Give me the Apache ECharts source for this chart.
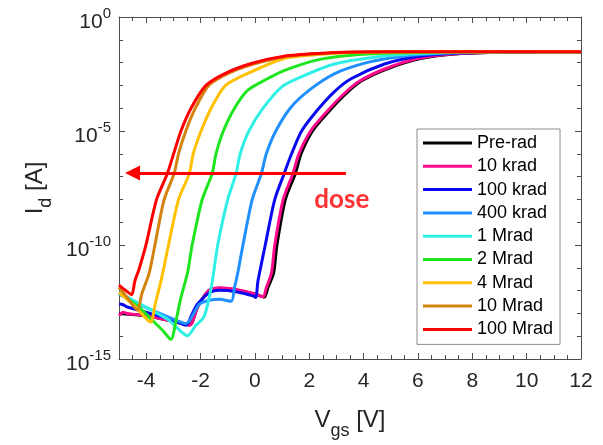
<!DOCTYPE html>
<html>
<head>
<meta charset="utf-8">
<script src="https://cdn.jsdelivr.net/npm/echarts@6/dist/echarts.min.js"></script>
<style>
  html, body { margin: 0; padding: 0; background: #fff; }
  #chart { width: 603px; height: 445px; }
</style>
</head>
<body>
<div id="chart"></div>
<script>
// Id-Vgs transfer curves, values are [Vgs (V), log10(Id / A)]
const preRad = [[-5,-13.0],[-4,-13.1],[-3,-13.35],[-2.4,-13.5],[-2.1,-12.7],[-1.7,-12.0],[-1.3,-11.9],[-0.69,-11.97],[0.0,-12.15],[0.35,-12.28],[0.48,-11.87],[0.69,-11.23],[0.81,-10.01],[1.12,-8.01],[1.49,-6.86],[1.7,-6.0],[2.12,-5.0],[2.68,-4.2],[3.3,-3.42],[3.9,-2.82],[4.85,-2.28],[6.1,-1.82],[7.6,-1.6],[9.6,-1.53],[12,-1.52]];
const krad10 = [[-5,-13.09],[-4.85,-12.95],[-4.7,-13.0],[-4,-13.1],[-3,-13.35],[-2.4,-13.52],[-2.1,-12.7],[-1.7,-12.0],[-1.3,-11.87],[-0.69,-11.95],[0.0,-12.15],[0.3,-12.28],[0.42,-11.87],[0.61,-11.23],[0.73,-10.01],[1.04,-8.01],[1.40,-6.86],[1.62,-6.0],[2.05,-5.0],[2.61,-4.2],[3.23,-3.42],[3.84,-2.82],[4.77,-2.28],[6.0,-1.82],[7.5,-1.6],[9.5,-1.53],[12,-1.52]];
const krad100 = [[-5,-12.59],[-4.85,-12.62],[-4.7,-12.72],[-4,-12.95],[-3,-13.3],[-2.54,-13.52],[-2.3,-13.0],[-2.11,-12.59],[-1.67,-12.09],[-1.3,-11.99],[-0.69,-12.05],[-0.07,-12.23],[0.03,-12.3],[0.11,-11.6],[0.17,-11.23],[0.38,-10.01],[0.73,-8.01],[1.08,-6.86],[1.35,-6.0],[1.72,-5.0],[2.31,-4.07],[2.92,-3.28],[3.54,-2.71],[4.77,-2.06],[6,-1.73],[7.5,-1.58],[9.5,-1.53],[12,-1.52]];
const krad400 = [[-5,-12.16],[-4,-12.75],[-3,-13.25],[-2.54,-13.45],[-2.04,-12.59],[-1.67,-12.42],[-1.3,-12.38],[-0.87,-12.47],[-0.75,-11.87],[-0.63,-11.23],[-0.44,-10.01],[-0.1,-8.01],[0.24,-6.86],[0.42,-6.0],[0.77,-5.0],[1.3,-4.0],[2.0,-3.21],[2.92,-2.49],[4.15,-1.99],[5.38,-1.73],[7,-1.58],[9,-1.53],[12,-1.52]];
const mrad1 = [[-5,-12.09],[-3.77,-12.88],[-3.15,-13.31],[-2.48,-13.98],[-2.17,-13.52],[-1.92,-13.24],[-1.8,-12.9],[-1.61,-11.9],[-1.52,-11.23],[-1.37,-10.01],[-1.0,-8.01],[-0.69,-6.86],[-0.54,-6.0],[-0.22,-5.0],[0.3,-4.0],[1.0,-3.05],[1.69,-2.63],[2.92,-2.06],[4.77,-1.71],[6.5,-1.58],[8.5,-1.53],[12,-1.52]];
const mrad2 = [[-5,-12.1],[-4.26,-12.73],[-3.83,-13.24],[-3.4,-13.74],[-3.09,-14.14],[-2.9,-13.3],[-2.72,-12.3],[-2.48,-11.23],[-2.31,-10.01],[-1.94,-8.01],[-1.57,-6.86],[-1.43,-6.0],[-1.16,-5.0],[-0.75,-4.0],[-0.25,-3.2],[0.46,-2.71],[1.07,-2.35],[2.31,-1.88],[3.54,-1.68],[5,-1.58],[7,-1.53],[12,-1.52]];
const mrad4 = [[-5,-12.09],[-4.38,-12.73],[-3.84,-13.38],[-3.67,-12.6],[-3.44,-11.5],[-3.18,-10.01],[-2.81,-8.01],[-2.41,-6.86],[-2.27,-6.0],[-1.98,-5.0],[-1.61,-4.0],[-1.08,-3.0],[-0.16,-2.42],[1.07,-1.82],[2.31,-1.65],[3.6,-1.56],[6,-1.52],[12,-1.52]];
const mrad10 = [[-5,-11.87],[-4.7,-12.3],[-4.33,-12.85],[-4.15,-12.1],[-3.89,-11.23],[-3.68,-10.01],[-3.34,-8.01],[-2.97,-6.86],[-2.81,-6.0],[-2.54,-5.0],[-2.19,-4.0],[-1.7,-3.0],[-0.98,-2.47],[-0.05,-2.06],[1.1,-1.74],[2.35,-1.61],[3.6,-1.55],[6,-1.52],[12,-1.52]];
const mrad100 = [[-5,-11.76],[-4.75,-12.0],[-4.53,-12.18],[-4.42,-11.6],[-4.26,-11.05],[-4.01,-10.01],[-3.62,-8.01],[-3.22,-6.86],[-2.99,-6.0],[-2.72,-5.0],[-2.35,-4.0],[-1.8,-3.0],[-1.05,-2.45],[-0.1,-2.03],[1.07,-1.72],[2.31,-1.6],[3.54,-1.54],[6,-1.52],[12,-1.52]];

const seriesNames = ['Pre-rad', '10 krad', '100 krad', '400 krad', '1 Mrad', '2 Mrad', '4 Mrad', '10 Mrad', '100 Mrad'];
const seriesData = [preRad, krad10, krad100, krad400, mrad1, mrad2, mrad4, mrad10, mrad100];
const seriesColors = ['#000000', '#ff0a8c', '#0a0af0', '#2090ff', '#30f0e6', '#1ee61e', '#ffc000', '#d4820e', '#ff0000'];

const xMajorTicks = [-4, -2, 0, 2, 4, 6, 8, 10, 12];
const yMajorTicks = [-15, -10, -5, 0];

// dose arrow (from -> to) and label, in data coords
const doseArrow = [[3.35, -6.84], [-4.5, -6.84]];
const doseLabel = [3.2, -8.0];

const FONT = '"Liberation Sans", Arial, sans-serif';
const AXIS_COLOR = '#4d4d4d';
const TEXT_COLOR = '#262626';

// one side of the MATLAB-style box; ticks only unless overridden
function boxAxis(range, position, opts) {
  return Object.assign({
    type: 'value',
    min: range[0],
    max: range[1],
    position: position,
    splitLine: { show: false },
    axisLine: { show: !!opts.line, onZero: false, lineStyle: { color: AXIS_COLOR, width: 1 } },
    axisLabel: { show: false },
    axisTick: opts.custom
      ? { show: true, inside: true, length: 6, customValues: opts.custom, lineStyle: { color: AXIS_COLOR, width: 1 } }
      : { show: true, inside: true, length: 4, lineStyle: { color: AXIS_COLOR, width: 1 } }
  }, opts.interval ? { interval: opts.interval } : {});
}

const chart = echarts.init(document.getElementById('chart'), null, { renderer: 'canvas' });

const xRange = [-5, 12];
const yRange = [-15, 0];

const nameRich = {
  m: { fontSize: 24, fontFamily: FONT, color: TEXT_COLOR, verticalAlign: 'bottom', padding: [0, 0, 8, 0] },
  s: { fontSize: 18, fontFamily: FONT, color: TEXT_COLOR, verticalAlign: 'bottom' }
};

const xMain = boxAxis(xRange, 'bottom', { line: true, interval: 0.5 });
xMain.axisLabel = {
  show: true,
  margin: 12,
  fontSize: 21,
  fontFamily: FONT,
  color: TEXT_COLOR,
  formatter: v => (xMajorTicks.indexOf(v) >= 0 ? String(v) : '')
};
xMain.name = '{m|V}{s|gs}{m| [V]}';
xMain.nameLocation = 'middle';
xMain.nameGap = 49;
xMain.nameTextStyle = { fontFamily: FONT, color: TEXT_COLOR, rich: nameRich };

const yMain = boxAxis(yRange, 'left', { line: true, interval: 1 });
yMain.axisLabel = {
  show: true,
  margin: 8,
  padding: [5, 0, 0, 0],
  fontFamily: FONT,
  formatter: v => (yMajorTicks.indexOf(v) >= 0 ? '{b|10}{s|' + v + '}' : ''),
  rich: {
    b: { fontSize: 21, fontFamily: FONT, color: TEXT_COLOR, verticalAlign: 'bottom' },
    s: { fontSize: 15, fontFamily: FONT, color: TEXT_COLOR, verticalAlign: 'bottom', padding: [0, 0, 12, 0] }
  }
};
yMain.name = '{m|I}{s|d}{m| [A]}';
yMain.nameLocation = 'middle';
yMain.nameGap = 63;
yMain.nameTextStyle = { fontFamily: FONT, color: TEXT_COLOR, rich: nameRich };

const option = {
  animation: false,
  backgroundColor: '#fff',
  grid: { left: 119, right: 22, top: 17, bottom: 79 },
  xAxis: [
    xMain,
    boxAxis(xRange, 'bottom', { custom: xMajorTicks }),
    boxAxis(xRange, 'top', { line: true, interval: 0.5 }),
    boxAxis(xRange, 'top', { custom: xMajorTicks })
  ],
  yAxis: [
    yMain,
    boxAxis(yRange, 'left', { custom: yMajorTicks }),
    boxAxis(yRange, 'right', { line: true, interval: 1 }),
    boxAxis(yRange, 'right', { custom: yMajorTicks })
  ],
  legend: {
    data: seriesNames,
    orient: 'vertical',
    left: 417,
    top: 129,
    padding: [5, 7, 6, 6],
    itemGap: 5.3,
    itemWidth: 49,
    itemHeight: 3,
    itemTextGap: 5,
    icon: 'rect',
    backgroundColor: '#fff',
    borderColor: '#8c8c8c',
    borderWidth: 1,
    borderRadius: 0,
    textStyle: { fontSize: 18, lineHeight: 18, fontFamily: FONT, color: '#000' }
  },
  series: seriesNames.map((name, i) => ({
    name: name,
    type: 'line',
    data: seriesData[i],
    xAxisIndex: 0,
    yAxisIndex: 0,
    showSymbol: false,
    smooth: 0.25,
    color: seriesColors[i],
    lineStyle: { width: 3, color: seriesColors[i] },
    z: 2 + i * 0.01
  })).concat([{
    name: 'dose',
    type: 'scatter',
    xAxisIndex: 0,
    yAxisIndex: 0,
    data: [doseLabel],
    symbolSize: 0,
    silent: true,
    z: 5,
    label: {
      show: true,
      position: 'inside',
      formatter: 'dose',
      fontFamily: 'Lato, "Open Sans", sans-serif',
      fontWeight: 'bold',
      fontSize: 26,
      color: '#ff0000'
    },
    markLine: {
      silent: true,
      animation: false,
      symbol: ['none', 'triangle'],
      symbolSize: 15,
      label: { show: false },
      lineStyle: { color: '#ff0000', width: 3, type: 'solid' },
      itemStyle: { color: '#ff0000' },
      data: [[{ coord: doseArrow[0] }, { coord: doseArrow[1] }]]
    }
  }])
};

chart.setOption(option);
</script>
</body>
</html>
